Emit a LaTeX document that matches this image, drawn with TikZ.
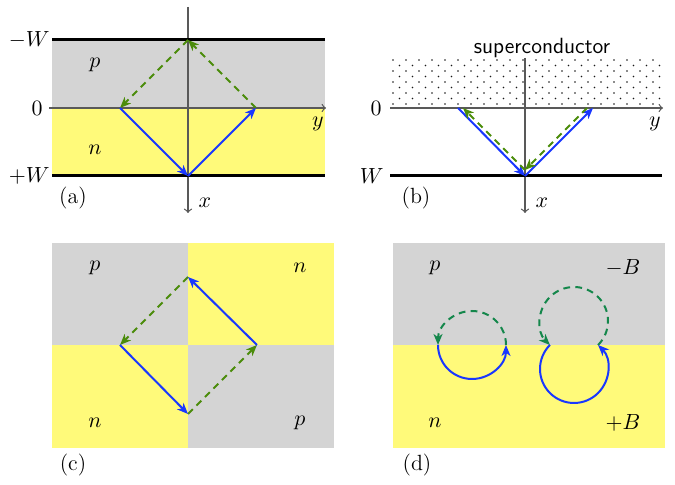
\documentclass[tikz,border=0pt]{standalone}
\usetikzlibrary{arrows.meta}
\definecolor{pgray}{RGB}{212,212,212}
\definecolor{nyellow}{RGB}{255,250,122}
\definecolor{eblue}{RGB}{25,55,255}
\definecolor{hgreen}{RGB}{75,140,10}
\definecolor{hteal}{RGB}{20,135,75}
\begin{document}
\begin{tikzpicture}[x=0.5pt, y=-0.5pt, font=\fontsize{11}{13}\selectfont,
  axis/.style={->, >=to, draw=black!65, line width=0.6pt},
  edge/.style={line width=1.5pt},
  elec/.style={-{Stealth[length=5.5pt, width=4.5pt, inset=1.6pt]}, eblue, line width=1pt},
  hole/.style={-{Stealth[length=5.5pt, width=4.5pt, inset=1.6pt]}, hgreen, line width=1pt,
    dash pattern=on 3.4pt off 2.6pt},
  holeb/.style={hole, hteal},
  lbl/.style={inner sep=0pt}]
\useasboundingbox (0,0) rectangle (675,485);
% (a)
\fill[pgray] (52,40) rectangle (325,108);
\fill[nyellow] (52,108) rectangle (325,176);
\draw[axis] (49,108) -- (326,108);
\draw[axis] (188,7) -- (188,213);
\draw[edge] (52,40) -- (325,40);
\draw[edge] (52,176) -- (325,176);
\coordinate (aT) at (188,40);  \coordinate (aL) at (120,108);
\coordinate (aR) at (256,108); \coordinate (aB) at (188,176);
\draw[hole] (aT) -- (aL); \draw[hole] (aR) -- (aT);
\draw[elec] (aL) -- (aB); \draw[elec] (aB) -- (aR);
\node[lbl, anchor=east] (amW) at (50,40) {$-W$};
\node[lbl, anchor=east] (a0) at (43,108) {$0$};
\node[lbl, anchor=east] (apW) at (50,176) {$+W$};
\node[lbl] (ap) at (95,65) {$p$};
\node[lbl] (an) at (95,150) {$n$};
\node[lbl] (ax) at (205,203) {$x$};
\node[lbl] (ay) at (318,124) {$y$};
\node[lbl] (atag) at (73,198) {(a)};
% (b)
\foreach \j [evaluate=\j as \off using {6.5*mod(\j,2)}] in {0,...,8}
  \foreach \i in {0,...,20}
    \fill[black!90] (393+13*\i+\off, 60+5.5*\j) circle[radius=0.95];
\draw[axis] (390,108) -- (663,108);
\draw[axis] (525,58) -- (525,213);
\draw[edge] (390,176) -- (662,176);
\coordinate (bL) at (458,108); \coordinate (bB) at (525,176);
\coordinate (bR) at (593,108);
\coordinate (hR) at (587,108); \coordinate (hB) at (525,170);
\coordinate (hL) at (463,108);
\draw[elec] (bL) -- (bB); \draw[elec] (bB) -- (bR);
\draw[hole] (hR) -- (hB); \draw[hole] (hB) -- (hL);
\node[lbl, anchor=east] (b0) at (382,108) {$0$};
\node[lbl, anchor=east] (bW) at (384,176) {$W$};
\node[lbl] (bsc) at (542,48) {\sffamily superconductor};
\node[lbl] (bx) at (542,203) {$x$};
\node[lbl] (by) at (655,124) {$y$};
\node[lbl] (btag) at (416,198) {(b)};
% (c)
\fill[pgray] (52,243) rectangle (188,345);
\fill[nyellow] (188,243) rectangle (334,345);
\fill[nyellow] (52,345) rectangle (188,448);
\fill[pgray] (188,345) rectangle (334,448);
\coordinate (cT) at (188,277); \coordinate (cL) at (120,345);
\coordinate (cR) at (257,345); \coordinate (cB) at (188,414);
\draw[hole] (cT) -- (cL); \draw[hole] (cB) -- (cR);
\draw[elec] (cL) -- (cB); \draw[elec] (cR) -- (cT);
\node[lbl] (cp1) at (95,268) {$p$};
\node[lbl] (cn1) at (300,268) {$n$};
\node[lbl] (cn2) at (95,423) {$n$};
\node[lbl] (cp2) at (300,423) {$p$};
\node[lbl] (ctag) at (73,465) {(c)};
% (d)
\fill[pgray] (393,243) rectangle (665,345);
\fill[nyellow] (393,345) rectangle (665,448);
\coordinate (d1) at (472,345);
\coordinate (d2h) at (574,321); \coordinate (d2e) at (574,369);
\draw[holeb] ([shift={(0:34)}]d1) arc[start angle=360, end angle=180, radius=34];
\draw[elec] ([shift={(180:34)}]d1) arc[start angle=180, end angle=0, radius=34];
\draw[holeb] ([shift={(45:34)}]d2h) arc[start angle=45, end angle=-225, radius=34];
\draw[elec] ([shift={(225:34)}]d2e) arc[start angle=225, end angle=-45, radius=34];
\node[lbl] (dp) at (435,268) {$p$};
\node[lbl] (dmB) at (623,268) {$-B$};
\node[lbl] (dn) at (435,423) {$n$};
\node[lbl] (dpB) at (623,423) {$+B$};
\node[lbl] (dtag) at (417,465) {(d)};
\end{tikzpicture}
\end{document}
